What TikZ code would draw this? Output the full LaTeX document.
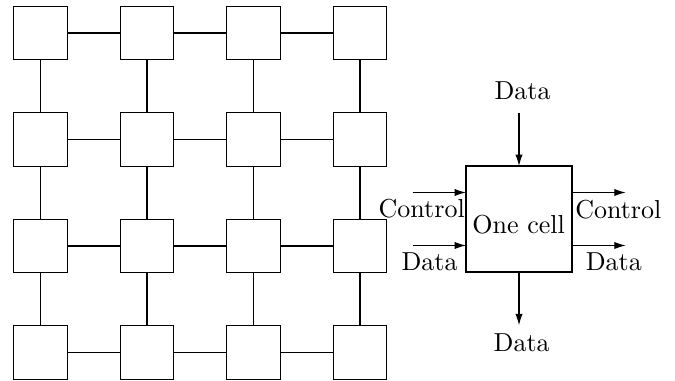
\documentclass[tikz,border=0pt]{standalone}
\usetikzlibrary{arrows.meta,calc}

\begin{document}
\begin{tikzpicture}[
  x=0.3846pt, y=-0.3846pt,
  gridcell/.style={draw, minimum size=53.3*0.3846pt, inner sep=0pt, outer sep=0pt},
  bigcell/.style={draw, minimum size=106*0.3846pt, inner sep=0pt, outer sep=0pt},
  txt/.style={anchor=base, inner sep=0pt, outer sep=0pt},
  link/.style={draw},
  flow/.style={draw, -{Latex[length=4.4pt, width=2.8pt]}}
]
\useasboundingbox (0,0) rectangle (675,381);

% 4x4 array of cells
\foreach \i/\x in {0/40.5, 1/147, 2/253.5, 3/360}{
  \foreach \j/\y in {0/33, 1/139.5, 2/246, 3/352.5}{
    \node[gridcell] (g\i\j) at (\x,\y) {};
  }
}

% links between horizontal neighbours
\foreach \j in {0,1,2,3}{
  \foreach \i/\n in {0/1, 1/2, 2/3}{
    \draw[link] (g\i\j.east) -- (g\n\j.west);
  }
}
% links between vertical neighbours
\foreach \i in {0,1,2,3}{
  \foreach \j/\n in {0/1, 1/2, 2/3}{
    \draw[link] (g\i\j.south) -- (g\i\n.north);
  }
}

% a single cell with its inputs and outputs
\node[bigcell] (cell) at (519,219) {};
\node[txt] (celltext) at (518.7,233.3) {One cell};

\coordinate (inW1) at ($(cell.north west)!0.25!(cell.south west)$);
\coordinate (inW2) at ($(cell.north west)!0.75!(cell.south west)$);
\coordinate (outE1) at ($(cell.north east)!0.25!(cell.south east)$);
\coordinate (outE2) at ($(cell.north east)!0.75!(cell.south east)$);

\coordinate (srcN) at (519,112.7);
\coordinate (dstS) at (519,325.3);
\coordinate (srcW1) at (412.7,192.5);
\coordinate (srcW2) at (412.7,245.5);
\coordinate (dstE1) at (625.7,192.5);
\coordinate (dstE2) at (625.7,245.5);

\draw[flow] (srcN) -- (cell.north);
\draw[flow] (cell.south) -- (dstS);
\draw[flow] (srcW1) -- (inW1);
\draw[flow] (srcW2) -- (inW2);
\draw[flow] (outE1) -- (dstE1);
\draw[flow] (outE2) -- (dstE2);

\node[txt] (dataN) at (522.5,100) {Data};
\node[txt] (dataS) at (521.7,352) {Data};
\node[txt] (ctrlW) at (421.7,217.7) {Control};
\node[txt] (dataW) at (429.5,270.7) {Data};
\node[txt] (ctrlE) at (618.3,218.3) {Control};
\node[txt] (dataE) at (613.8,271) {Data};
\end{tikzpicture}
\end{document}
